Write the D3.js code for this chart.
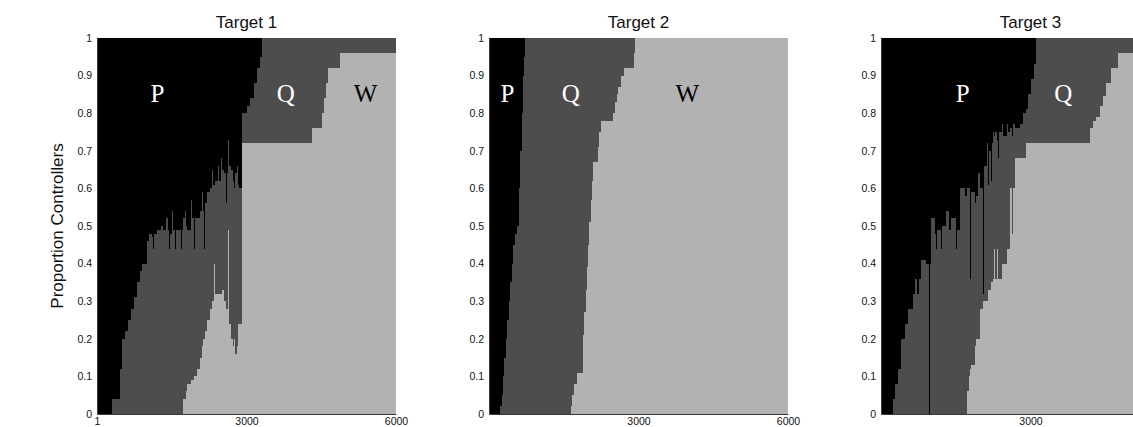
<!DOCTYPE html>
<html>
<head>
<meta charset="utf-8">
<script src="https://cdn.jsdelivr.net/npm/d3@7"></script>
<style>
  body { margin: 0; background: #fff; }
  svg { display: block; }
</style>
</head>
<body>
<div></div>
<script>
// proportions of controllers of each kind over time
const titles = ["Target 1", "Target 2", "Target 3"];
const yTicks = [0, 0.1, 0.2, 0.3, 0.4, 0.5, 0.6, 0.7, 0.8, 0.9, 1];
const xTicks = [[1, 3000, 6000], [3000, 6000], [3000]];
const xDomain = [1, 6000];

// Target 1
const t1 = [1, 300, 460, 500, 560, 620, 680, 740, 800, 860, 900, 1000, 1040, 1100, 1120, 1140, 1200, 1280, 1320, 1380,
  1420, 1440, 1460, 1500, 1520, 1560, 1580, 1680, 1700,
  1730, 1760, 1780, 1800, 1880, 1900, 1940, 1960, 2000, 2060, 2100, 2120, 2140, 2160, 2200, 2260, 2300, 2320, 2340, 2360,
  2420, 2440, 2480, 2500, 2540, 2580, 2600, 2630, 2650, 2690, 2720, 2740, 2770, 2800, 2830, 2850, 2910, 3010, 3070, 3150,
  3210, 3270, 3310, 4310, 4510, 4550, 4590, 4630, 4870];
const w1 = [0, 0, 0, 0, 0, 0, 0, 0, 0, 0, 0, 0, 0, 0, 0, 0, 0, 0, 0, 0,
  0, 0, 0, 0, 0, 0, 0, 0, 0,
  0.04, 0.04, 0.06, 0.08, 0.09, 0.09, 0.10, 0.10, 0.12, 0.15, 0.18, 0.20, 0.20, 0.22, 0.25, 0.28, 0.30, 0.30, 0.40, 0.32,
  0.32, 0.32, 0.32, 0.33, 0.30, 0.28, 0.28, 0.49, 0.24, 0.20, 0.18, 0.20, 0.16, 0.18, 0.24, 0.24, 0.72, 0.72, 0.72, 0.72,
  0.72, 0.72, 0.72, 0.76, 0.80, 0.84, 0.88, 0.92, 0.96];
const q1 = [0, 0.04, 0.12, 0.20, 0.22, 0.25, 0.28, 0.31, 0.35, 0.38, 0.40, 0.46, 0.48, 0.47, 0.44, 0.48, 0.49, 0.50, 0.49, 0.52,
  0.49, 0.44, 0.48, 0.54, 0.49, 0.44, 0.49, 0.44, 0.49,
  0.48, 0.50, 0.44, 0.41, 0.48, 0.43, 0.34, 0.42, 0.40, 0.39, 0.41, 0.34, 0.24, 0.34, 0.34, 0.32, 0.35, 0.31, 0.21, 0.30,
  0.34, 0.30, 0.36, 0.32, 0.34, 0.28, 0.36, 0.24, 0.42, 0.45, 0.44, 0.40, 0.48, 0.48, 0.37, 0.36, 0.08, 0.10, 0.12, 0.16,
  0.20, 0.23, 0.28, 0.24, 0.20, 0.16, 0.12, 0.08, 0.04];

// Target 2
const t2 = [1, 220, 255, 280, 310, 340, 370, 400, 430, 460, 490, 520, 555, 605, 630, 655, 680, 700, 720,
  1640, 1675, 1710, 1760, 1880, 1890, 1915, 1940, 1960, 1985, 2010, 2040, 2060, 2080, 2180, 2205, 2245, 2495, 2530, 2560,
  2595, 2650, 2710, 2910, 2930];
const w2 = [0, 0, 0, 0, 0, 0, 0, 0, 0, 0, 0, 0, 0, 0, 0, 0, 0, 0, 0,
  0.02, 0.05, 0.08, 0.11, 0.14, 0.21, 0.27, 0.33, 0.39, 0.45, 0.51, 0.57, 0.62, 0.67, 0.71, 0.75, 0.78, 0.80, 0.83, 0.85,
  0.87, 0.90, 0.92, 0.96, 1];
const q2 = [0, 0.02, 0.05, 0.10, 0.15, 0.20, 0.25, 0.30, 0.35, 0.40, 0.45, 0.48, 0.50, 0.60, 0.70, 0.80, 0.90, 0.95, 1,
  0.98, 0.95, 0.92, 0.89, 0.86, 0.79, 0.73, 0.67, 0.61, 0.55, 0.49, 0.43, 0.38, 0.33, 0.29, 0.25, 0.22, 0.20, 0.17, 0.15,
  0.13, 0.10, 0.08, 0.04, 0];

// Target 3
const t3 = [1, 240, 280, 340, 400, 480, 540, 640, 680, 720, 760, 810, 910, 960, 980, 1010, 1080, 1110, 1130, 1210,
  1230, 1310, 1370, 1410, 1510, 1530, 1580, 1680,
  1720, 1760, 1780, 1800, 1890, 1910, 1950, 1990, 2050, 2070, 2120, 2150, 2170, 2210, 2230, 2250, 2270, 2290, 2330, 2350,
  2370, 2430, 2450, 2520, 2550, 2580, 2630, 2650, 2690, 2790, 2850, 2920, 2960, 3020, 3070, 3120, 4190, 4260, 4320, 4390,
  4460, 4520, 4620, 4760];
const w3 = [0, 0, 0, 0, 0, 0, 0, 0, 0, 0, 0, 0, 0, 0, 0, 0, 0, 0, 0, 0,
  0, 0, 0, 0, 0, 0, 0, 0,
  0.06, 0.10, 0.12, 0.13, 0.18, 0.20, 0.20, 0.28, 0.30, 0.30, 0.30, 0.33, 0.33, 0.35, 0.35, 0.36, 0.44, 0.36, 0.44, 0.36,
  0.36, 0.40, 0.40, 0.44, 0.44, 0.60, 0.48, 0.60, 0.68, 0.68, 0.68, 0.72, 0.72, 0.72, 0.72, 0.72, 0.76, 0.78, 0.79, 0.82,
  0.845, 0.88, 0.92, 0.96];
const q3 = [0, 0.04, 0.08, 0.12, 0.20, 0.24, 0.28, 0.32, 0.36, 0.32, 0.36, 0.41, 0.40, 0, 0.40, 0.52, 0.48, 0.44, 0.49, 0.44,
  0.50, 0.54, 0.49, 0.52, 0.44, 0.49, 0.60, 0.58,
  0.54, 0.50, 0.24, 0.46, 0.38, 0.38, 0.44, 0.32, 0.02, 0.36, 0.42, 0.28, 0.37, 0.27, 0.37, 0.39, 0.30, 0.39, 0.29, 0.32,
  0.39, 0.37, 0.34, 0.33, 0.31, 0.16, 0.26, 0.17, 0.08, 0.09, 0.12, 0.09, 0.13, 0.17, 0.21, 0.28, 0.24, 0.22, 0.21, 0.18,
  0.155, 0.12, 0.08, 0.04];

const series = [[t1, w1, q1], [t2, w2, q2], [t3, w3, q3]];

// region letters, anchored in data units
const regionLabels = [
  [{ k: "P", t: 1215, v: 0.83 }, { k: "Q", t: 3790, v: 0.83 }, { k: "W", t: 5390, v: 0.83 }],
  [{ k: "P", t: 370, v: 0.83 }, { k: "Q", t: 1640, v: 0.83 }, { k: "W", t: 3980, v: 0.83 }],
  [{ k: "P", t: 1640, v: 0.83 }, { k: "Q", t: 3660, v: 0.83 }]
];

const colors = { W: "#b2b2b2", Q: "#4d4d4d", P: "#000000" };
const labelColors = { P: "#fff", Q: "#fff", W: "#000" };

const svgW = 1133, svgH = 427;
const padLeft = 97, panelStep = 392, padTop = 38, pw = 299, ph = 376;
const sans = "'Liberation Sans', Arial, sans-serif";

const svg = d3.select('div')
  .append('svg')
  .attr('width', svgW)
  .attr('height', svgH)
  .attr('viewBox', `0 0 ${svgW} ${svgH}`);

const x = d3.scaleLinear().domain(xDomain).range([0, pw]);
const y = d3.scaleLinear().domain([0, 1]).range([ph, 0]);

const stack = d3.stack().keys(["W", "Q", "P"]);
const area = d3.area()
  .curve(d3.curveStepAfter)
  .x(d => x(d.data.t))
  .y0(d => y(d[0]))
  .y1(d => y(d[1]));

series.forEach(([ts, ws, qs], i) => {
  const rows = ts.map((t, j) => ({ t: t, W: ws[j], Q: qs[j], P: Math.max(0, 1 - ws[j] - qs[j]) }));
  rows.push(Object.assign({}, rows[rows.length - 1], { t: xDomain[1] }));

  const g = svg.append('g').attr('transform', `translate(${padLeft + i * panelStep},${padTop})`);

  g.selectAll('path.layer')
    .data(stack(rows))
    .join('path')
    .attr('class', 'layer')
    .attr('fill', d => colors[d.key])
    .attr('shape-rendering', 'crispEdges')
    .attr('d', area);

  g.selectAll('text.region')
    .data(regionLabels[i])
    .join('text')
    .attr('class', 'region')
    .attr('x', d => x(d.t))
    .attr('y', d => y(d.v))
    .attr('text-anchor', 'middle')
    .attr('font-family', "'Liberation Serif', 'Times New Roman', serif")
    .attr('font-size', 25)
    .attr('fill', d => labelColors[d.k])
    .text(d => d.k);

  // axes
  const ya = g.append('g')
    .call(d3.axisLeft(y).tickValues(yTicks).tickFormat(d3.format('')).tickSize(0).tickPadding(5));
  const xa = g.append('g')
    .attr('transform', `translate(0,${ph})`)
    .call(d3.axisBottom(x).tickValues(xTicks[i]).tickFormat(d3.format('d')).tickSize(0).tickPadding(4));

  [ya, xa].forEach(a => {
    a.select('.domain').attr('stroke', '#3a3a3a');
    a.selectAll('text')
      .attr('font-family', sans)
      .attr('font-size', 10.5)
      .attr('fill', '#111');
  });

  g.append('text')
    .attr('x', pw / 2)
    .attr('y', -10)
    .attr('text-anchor', 'middle')
    .attr('font-family', sans)
    .attr('font-size', 17)
    .attr('fill', '#111')
    .text(titles[i]);

  if (i === 0) {
    g.append('text')
      .attr('transform', `translate(-34,${ph / 2}) rotate(-90)`)
      .attr('text-anchor', 'middle')
      .attr('font-family', sans)
      .attr('font-size', 17)
      .attr('fill', '#111')
      .text('Proportion Controllers');
  }
});
</script>
</body>
</html>
